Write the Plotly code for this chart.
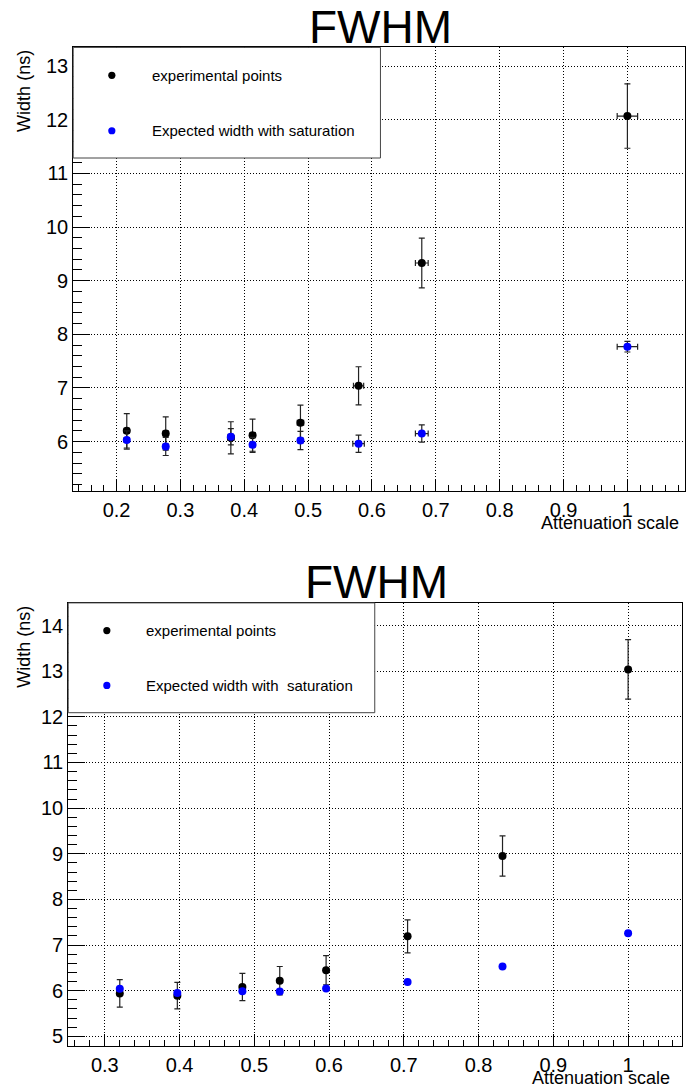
import plotly.graph_objects as go

# ---------------- data ----------------
# top panel
x_top = [0.216, 0.277, 0.379, 0.413, 0.488, 0.579, 0.678, 1.0]
x_top_err = [0.004, 0.004, 0.005, 0.004, 0.005, 0.008, 0.010, 0.016]
exp_top = [6.20, 6.15, 6.07, 6.12, 6.35, 7.04, 9.33, 12.07]
exp_top_err = [0.32, 0.31, 0.30, 0.30, 0.33, 0.355, 0.465, 0.60]
sat_top = [6.03, 5.91, 6.09, 5.94, 6.02, 5.96, 6.15, 7.77]
sat_top_err = [0.17, 0.17, 0.15, 0.14, 0.17, 0.16, 0.16, 0.10]
sat_top_xerr = [0.004, 0.004, 0.004, 0.004, 0.004, 0.009, 0.010, 0.016]

# bottom panel
x_bot = [0.320, 0.397, 0.484, 0.534, 0.596, 0.705, 0.832, 1.0]
exp_bot = [5.94, 5.89, 6.08, 6.22, 6.45, 7.19, 8.95, 13.04]
exp_bot_err = [0.30, 0.29, 0.30, 0.31, 0.32, 0.36, 0.44, 0.65]
sat_bot = [6.04, 5.95, 5.99, 5.98, 6.05, 6.19, 6.53, 7.26]

title_text = "FWHM"
x_title = "Attenuation scale"
y_title = "Width (ns)"
legend_top = ["experimental points", "Expected width with saturation"]
legend_bot = ["experimental points", "Expected width with\u00a0 saturation"]

# ---------------- layout helpers ----------------
W, H = 686, 1090
FONT = "Liberation Sans, Arial, Helvetica, sans-serif"


def px(x):
    return x / W


def py(y):
    return 1 - y / H


fig = go.Figure()

ERR_COLOR = "#222222"

# top panel traces
fig.add_trace(go.Scatter(
    x=x_top, y=exp_top, mode="markers", xaxis="x", yaxis="y",
    marker=dict(color="black", size=8),
    error_y=dict(type="data", array=exp_top_err, color=ERR_COLOR, thickness=1.2, width=3),
    error_x=dict(type="data", array=x_top_err, color=ERR_COLOR, thickness=1.2, width=3),
    showlegend=False))
fig.add_trace(go.Scatter(
    x=x_top, y=sat_top, mode="markers", xaxis="x", yaxis="y",
    marker=dict(color="#0000ff", size=8),
    error_y=dict(type="data", array=sat_top_err, color=ERR_COLOR, thickness=1.2, width=3),
    error_x=dict(type="data", array=sat_top_xerr, color=ERR_COLOR, thickness=1.2, width=3),
    showlegend=False))

# bottom panel traces
fig.add_trace(go.Scatter(
    x=x_bot, y=exp_bot, mode="markers", xaxis="x2", yaxis="y2",
    marker=dict(color="black", size=8),
    error_y=dict(type="data", array=exp_bot_err, color=ERR_COLOR, thickness=1.2, width=3),
    showlegend=False))
fig.add_trace(go.Scatter(
    x=x_bot, y=sat_bot, mode="markers", xaxis="x2", yaxis="y2",
    marker=dict(color="#0000ff", size=8),
    showlegend=False))

tickfont = dict(family=FONT, size=20, color="black")
GRIDDASH = "1px,2px"


def xaxis(rng, dom, anchor):
    return dict(
        range=rng, domain=dom, anchor=anchor,
        showline=True, linecolor="black", linewidth=1, mirror=True,
        ticks="inside", ticklen=12, tickwidth=1, tickcolor="black",
        dtick=0.1, tick0=0, tickfont=tickfont, ticklabelstandoff=1,
        showgrid=True, gridcolor="black", griddash=GRIDDASH, gridwidth=1,
        zeroline=False,
        minor=dict(ticks="inside", ticklen=6, tickwidth=1, tickcolor="black",
                   dtick=0.02, tick0=0, showgrid=False),
    )


def yaxis(rng, dom, anchor):
    return dict(
        range=rng, domain=dom, anchor=anchor,
        showline=True, linecolor="black", linewidth=1, mirror=True,
        ticks="inside", ticklen=17, tickwidth=1, tickcolor="black",
        dtick=1, tick0=0, tickfont=tickfont,
        showgrid=True, gridcolor="black", griddash=GRIDDASH, gridwidth=1,
        zeroline=False,
        minor=dict(ticks="inside", ticklen=9, tickwidth=1, tickcolor="black",
                   dtick=0.2, tick0=0, showgrid=False),
    )


fig.update_layout(
    width=W, height=H,
    margin=dict(l=0, r=0, t=0, b=0),
    paper_bgcolor="white", plot_bgcolor="white",
    font=dict(family=FONT, color="black"),
    xaxis=xaxis([0.1321, 1.0902], [px(73.3), 1.0], "y"),
    yaxis=yaxis([5.086, 13.35], [py(491.5), py(47.5)], "x"),
    xaxis2=xaxis([0.251, 1.0725], [px(68.3), px(683.3)], "y2"),
    yaxis2=yaxis([4.797, 14.497], [py(1047.5), py(604)], "x2"),
)

ann = []
shapes = []

# titles
ann.append(dict(text=title_text, x=px(381), y=py(27), xref="paper", yref="paper",
                xanchor="center", yanchor="middle", showarrow=False,
                font=dict(family=FONT, size=46, color="black")))
ann.append(dict(text=title_text, x=px(377), y=py(583), xref="paper", yref="paper",
                xanchor="center", yanchor="middle", showarrow=False,
                font=dict(family=FONT, size=46, color="black")))

# axis titles
for (xr, yc) in [(681.7, 523.5), (673.3, 1080)]:
    ann.append(dict(text=x_title, x=px(xr), y=py(yc), xref="paper", yref="paper",
                    xanchor="right", yanchor="middle", showarrow=False,
                    font=dict(family=FONT, size=18, color="black")))
for (xc, yt) in [(24, 48), (24, 605)]:
    ann.append(dict(text=y_title, x=px(xc), y=py(yt), xref="paper", yref="paper",
                    xanchor="center", yanchor="top", textangle=-90, showarrow=False,
                    font=dict(family=FONT, size=18, color="black")))

# legend boxes
legends = [
    dict(box=(73.3, 47.5, 381, 158.3), mx=112, tx=150, ys=(75.5, 131), labels=legend_top),
    dict(box=(68.3, 604, 375.3, 714), mx=107, tx=144, ys=(631.7, 686.7), labels=legend_bot),
]
colors = ["black", "#0000ff"]
for lg in legends:
    x0, y0, x1, y1 = lg["box"]
    shapes.append(dict(type="rect", xref="paper", yref="paper",
                       x0=px(x0), x1=px(x1), y0=py(y1), y1=py(y0),
                       fillcolor="white", line=dict(color="#444444", width=1), layer="above"))
    for i, (yy, lab) in enumerate(zip(lg["ys"], lg["labels"])):
        shapes.append(dict(type="circle", xref="paper", yref="paper",
                           xsizemode="pixel", ysizemode="pixel",
                           xanchor=px(lg["mx"]), yanchor=py(yy),
                           x0=-3.6, x1=3.6, y0=-3.6, y1=3.6,
                           fillcolor=colors[i], line=dict(color=colors[i], width=0), layer="above"))
        ann.append(dict(text=lab, x=px(lg["tx"]), y=py(yy), xref="paper", yref="paper",
                        xanchor="left", yanchor="middle", showarrow=False,
                        font=dict(family=FONT, size=15, color="black")))

fig.update_layout(annotations=ann, shapes=shapes)

fig.write_html("out.html")
